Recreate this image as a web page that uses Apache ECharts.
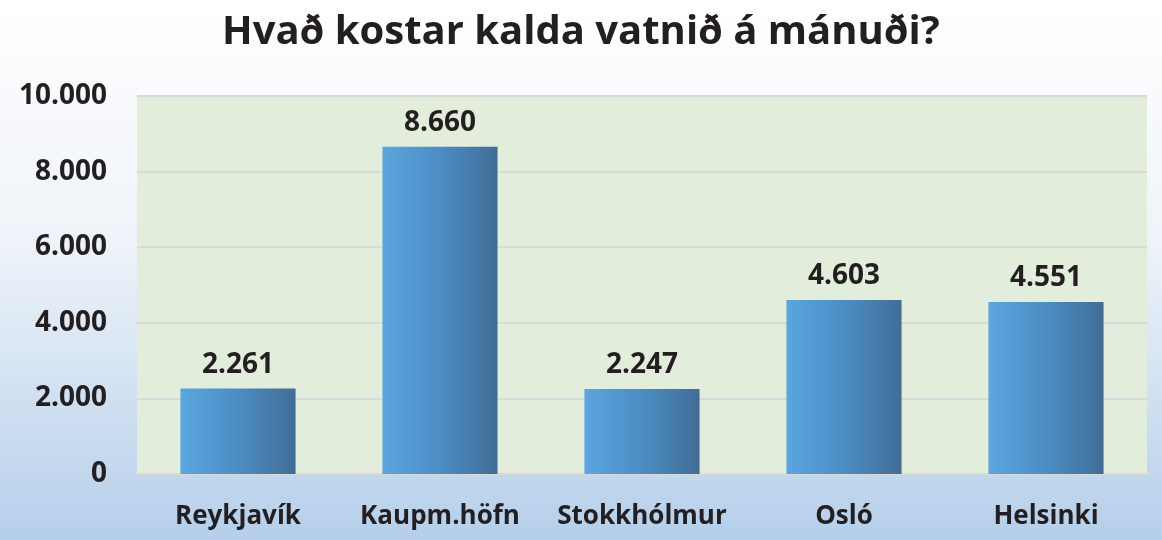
<!DOCTYPE html>
<html>
<head>
    <meta charset="utf-8">
    <title>Hvað kostar kalda vatnið á mánuði?</title>
    <script src="https://cdn.jsdelivr.net/npm/echarts@6/dist/echarts.min.js"></script>
    <style>
        html,body{
            height: 100%;
            margin: 0;
            padding: 0;
        }
    </style>
</head>
<body>
    <div id="main" style="width: 1162px;height:540px;"></div>
    <script type="text/javascript">
    var titleText = 'Hvað kostar kalda vatnið á mánuði?';
    var cities = ['Reykjavík', 'Kaupm.höfn', 'Stokkhólmur', 'Osló', 'Helsinki'];
    var costs = [2261, 8660, 2247, 4603, 4551];
    var yTicks = [0, 2000, 4000, 6000, 8000, 10000];

    // 1234 -> "1.234"
    function dotFormat(v){
        return String(v).replace(/\B(?=(\d{3})+(?!\d))/g, '.');
    }

    var fontName = '"Open Sans", "Noto Sans", sans-serif';
    var myChart = echarts.init(document.getElementById('main'));

    var option = {
        backgroundColor: new echarts.graphic.LinearGradient(0, 0, 0, 1, [
            {offset: 0, color: '#ffffff'},
            {offset: 0.45, color: '#eef3f9'},
            {offset: 1, color: '#b5cfea'}
        ]),
        title: {
            text: titleText,
            left: 'center',
            top: 8,
            textStyle: {
                fontFamily: fontName,
                fontSize: 40,
                fontWeight: 'bold',
                color: '#231f20'
            }
        },
        grid: {
            left: 137,
            right: 15,
            top: 96,
            bottom: 66,
            show: true,
            backgroundColor: '#e3eddb',
            borderWidth: 0
        },
        xAxis: {
            type: 'category',
            data: cities,
            axisLine: {show: true, lineStyle: {color: '#d9d9d9', width: 2}},
            axisTick: {show: false},
            axisLabel: {
                interval: 0,
                hideOverlap: false,
                margin: 30,
                fontFamily: fontName,
                fontSize: 26,
                fontWeight: 'bold',
                color: '#231f20'
            }
        },
        yAxis: {
            type: 'value',
            min: yTicks[0],
            max: yTicks[yTicks.length - 1],
            interval: yTicks[1] - yTicks[0],
            axisLine: {show: false},
            axisTick: {show: false},
            splitLine: {lineStyle: {color: '#d9d9d9', width: 2}},
            axisLabel: {
                margin: 30,
                fontFamily: fontName,
                fontSize: 28,
                fontWeight: 'bold',
                color: '#231f20',
                formatter: function(v){ return dotFormat(v); }
            }
        },
        series: [{
            type: 'bar',
            data: costs,
            barWidth: '57%',
            itemStyle: {
                color: new echarts.graphic.LinearGradient(0, 0, 1, 0, [
                    {offset: 0, color: '#5ba6df'},
                    {offset: 0.5, color: '#4b8dc4'},
                    {offset: 1, color: '#416d96'}
                ])
            },
            label: {
                show: true,
                position: 'top',
                distance: 10,
                fontFamily: fontName,
                fontSize: 28,
                fontWeight: 'bold',
                color: '#231f20',
                formatter: function(p){ return dotFormat(p.value); }
            }
        }]
    };

    myChart.setOption(option);
    </script>
</body>
</html>
